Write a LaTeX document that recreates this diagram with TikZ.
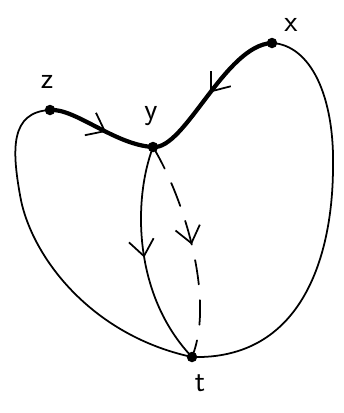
\documentclass[tikz,border=0pt]{standalone}
\usetikzlibrary{arrows.meta, decorations.markings}
\begin{document}
\begin{tikzpicture}[x=0.02cm, y=-0.02cm, line cap=round,
  dot/.style={circle, fill, inner sep=0pt, minimum size=0.21cm},
  lbl/.style={font=\LARGE\sffamily},
  wire/.style={line width=1pt},
  bold/.style={line width=2.4pt},
  midarrow/.style={postaction={decorate}, decoration={markings,
    mark=at position #1 with {\arrow{Straight Barb[length=0.32cm, width=0.5cm, line width=1pt]}}}}]
\useasboundingbox (0,0) rectangle (344,413);
% vertices
\coordinate (z) at (50,110);
\coordinate (y) at (153,147);
\coordinate (x) at (272,43);
\coordinate (t) at (192,357);
\node[lbl] (lz) at (47,82) {z};
\node[lbl] (ly) at (151,116) {y};
\node[lbl] (lx) at (291,25) {x};
\node[lbl] (lt) at (200,383) {t};
% outer arcs
\draw[wire] (z) .. controls (10,112) and (12,150) .. (20,195)
  .. controls (30,255) and (90,335) .. (t);
\draw[wire] (x) .. controls (310,45) and (335,95) .. (333,170)
  .. controls (332,260) and (300,360) .. (t);
% inner paths y -> t
\draw[wire, midarrow=0.5] (y) .. controls (133,200) and (133,295) .. (t);
\draw[wire, dash pattern=on 14pt off 9pt, midarrow=0.48] (y) .. controls (185,200) and (215,300) .. (t);
% bold path
\draw[bold, midarrow=0.5] (x) .. controls (225,45) and (185,150) .. (y);
\draw[bold, midarrow=0.55] (z) .. controls (75,108) and (115,145) .. (y);
\node[dot] (zd) at (z) {};
\node[dot] (yd) at (y) {};
\node[dot] (xd) at (x) {};
\node[dot] (td) at (t) {};
\end{tikzpicture}
\end{document}
